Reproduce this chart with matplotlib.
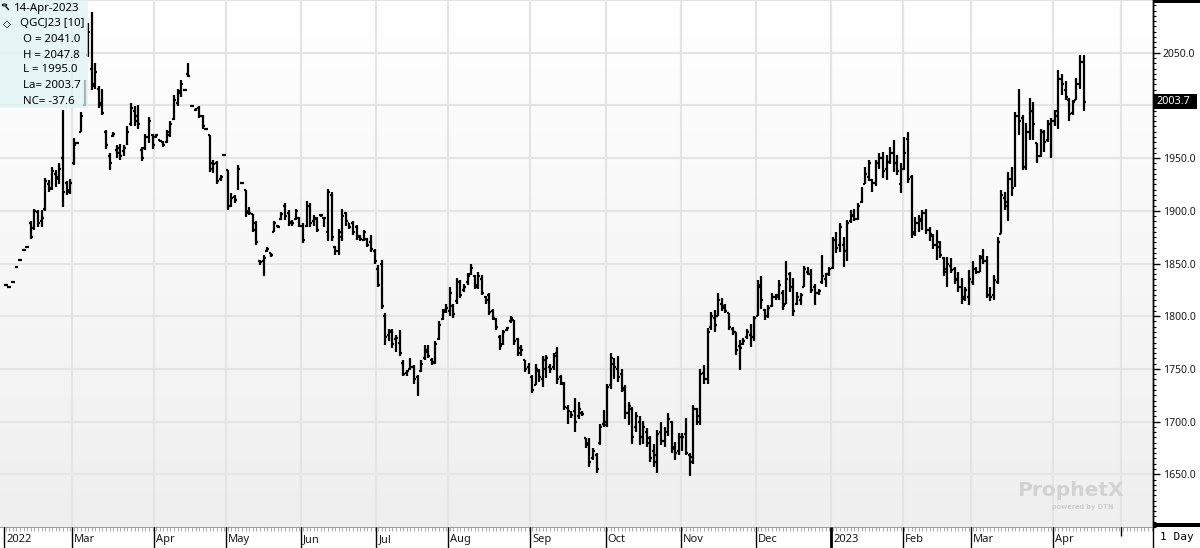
import matplotlib
matplotlib.use('Agg')
import matplotlib.pyplot as plt
from matplotlib.colors import LinearSegmentedColormap
from matplotlib.patches import Rectangle
from matplotlib.ticker import MultipleLocator, FormatStrFormatter
import numpy as np

# QGCJ23 daily bars, (open, high, low, close), one list per month
FEB22 = [(1830, 1830, 1830, 1830), (1828, 1828, 1828, 1828), (1832, 1832, 1832, 1832),
         (1847, 1847, 1847, 1847), (1853, 1853, 1853, 1853), (1863, 1863, 1863, 1863),
         (1866, 1866, 1866, 1866), (1888, 1890, 1873, 1875), (1884, 1902, 1882, 1900),
         (1899, 1901, 1885, 1888), (1890, 1901, 1885, 1893), (1902, 1931, 1900, 1928),
         (1925, 1929, 1918, 1921), (1922, 1942, 1920, 1938), (1935, 1939, 1923, 1930),
         (1932, 1945, 1925, 1940), (1950, 1996, 1904, 1918), (1926, 1928, 1915, 1918),
         (1920, 1930, 1916, 1926)]
MAR22 = [(1945, 1969, 1943, 1962), (1964, 1964, 1964, 1964), (1975, 1994, 1975, 1990),
         (2000, 2024, 1999, 2020), (2048, 2078, 2046, 2070), (2035, 2089, 2015, 2018),
         (2020, 2040, 2016, 2032), (2016, 2018, 1998, 2000), (2002, 2016, 1991, 1993),
         (1975, 1977, 1959, 1962), (1952, 1955, 1939, 1945), (1971, 1975, 1970, 1973),
         (1958, 1962, 1950, 1960), (1955, 1963, 1948, 1952), (1957, 1962, 1952, 1960),
         (1963, 1980, 1962, 1975), (1982, 2002, 1980, 1998), (1995, 1999, 1980, 1985),
         (1990, 2000, 1978, 1982), (1958, 1961, 1947, 1950), (1960, 1973, 1958, 1970),
         (1970, 1989, 1964, 1985), (1972, 1973, 1959, 1962)]
APR22 = [(1970, 1973, 1969, 1972), (1967, 1967, 1965, 1966), (1965, 1966, 1961, 1962),
         (1965, 1977, 1964, 1975), (1972, 1985, 1970, 1982), (1987, 2010, 1986, 2005),
         (2002, 2016, 1999, 2014), (2012, 2024, 2008, 2020), (2015, 2015, 2015, 2015),
         (2030, 2040, 2027, 2028), (1999, 1999, 1999, 1999), (1996, 1998, 1995, 1997),
         (1998, 1999, 1988, 1990), (1990, 1991, 1978, 1980), (1978, 1978, 1978, 1978),
         (1972, 1972, 1937, 1940), (1945, 1948, 1936, 1944), (1945, 1947, 1925, 1928),
         (1930, 1934, 1928, 1932), (1953, 1953, 1953, 1953)]
MAY22 = [(1939, 1939, 1901, 1905), (1905, 1917, 1904, 1912), (1913, 1915, 1907, 1910),
         (1922, 1943, 1920, 1940), (1926, 1926, 1926, 1926), (1920, 1920, 1894, 1898),
         (1900, 1904, 1896, 1898), (1897, 1897, 1880, 1882), (1888, 1890, 1868, 1870),
         (1852, 1853, 1849, 1851), (1852, 1858, 1838, 1855), (1862, 1866, 1861, 1864),
         (1860, 1860, 1856, 1858), (1880, 1890, 1880, 1888), (1886, 1887, 1884, 1885),
         (1892, 1899, 1891, 1897), (1905, 1907, 1891, 1895), (1898, 1901, 1886, 1888),
         (1889, 1891, 1886, 1888), (1892, 1902, 1891, 1900), (1893, 1894, 1885, 1886)]
JUN22 = [(1886, 1888, 1869, 1872), (1886, 1909, 1885, 1905), (1905, 1907, 1885, 1888),
         (1890, 1896, 1886, 1893), (1892, 1894, 1880, 1882), (1896, 1897, 1894, 1896),
         (1893, 1894, 1885, 1893), (1880, 1921, 1871, 1918), (1915, 1918, 1871, 1875),
         (1866, 1867, 1858, 1862), (1862, 1883, 1858, 1880), (1875, 1902, 1871, 1895),
         (1898, 1899, 1886, 1890), (1888, 1888, 1883, 1885), (1888, 1890, 1877, 1880),
         (1885, 1887, 1872, 1875), (1876, 1877, 1871, 1873), (1872, 1882, 1871, 1880),
         (1873, 1874, 1866, 1868), (1870, 1877, 1861, 1864), (1862, 1864, 1850, 1852)]
JUL22 = [(1845, 1849, 1828, 1830), (1850, 1853, 1807, 1810), (1800, 1803, 1773, 1780),
         (1782, 1788, 1776, 1785), (1786, 1788, 1770, 1774), (1778, 1782, 1766, 1779),
         (1775, 1787, 1762, 1765), (1756, 1758, 1743, 1745), (1746, 1749, 1743, 1748),
         (1750, 1760, 1749, 1752), (1752, 1754, 1736, 1740), (1742, 1744, 1724, 1742),
         (1748, 1758, 1747, 1755), (1760, 1773, 1758, 1768), (1766, 1773, 1760, 1762),
         (1758, 1760, 1754, 1757), (1756, 1776, 1755, 1774), (1778, 1795, 1777, 1792),
         (1797, 1807, 1796, 1804), (1806, 1812, 1803, 1808)]
AUG22 = [(1805, 1828, 1800, 1822), (1810, 1812, 1798, 1802), (1814, 1836, 1812, 1832),
         (1830, 1834, 1817, 1820), (1825, 1831, 1823, 1828), (1832, 1841, 1830, 1838),
         (1840, 1850, 1839, 1846), (1838, 1839, 1826, 1830), (1828, 1842, 1826, 1838),
         (1835, 1839, 1820, 1822), (1818, 1819, 1812, 1815), (1820, 1822, 1801, 1804),
         (1805, 1807, 1796, 1798), (1797, 1798, 1787, 1790), (1780, 1782, 1768, 1772),
         (1774, 1787, 1773, 1785), (1787, 1790, 1786, 1789), (1795, 1800, 1794, 1798),
         (1796, 1796, 1773, 1776), (1778, 1779, 1762, 1765), (1770, 1773, 1762, 1768),
         (1758, 1758, 1747, 1750), (1752, 1756, 1745, 1748)]
SEP22 = [(1742, 1744, 1727, 1730), (1735, 1755, 1735, 1750), (1748, 1750, 1738, 1742),
         (1740, 1762, 1733, 1758), (1750, 1763, 1741, 1760), (1752, 1755, 1746, 1750),
         (1752, 1765, 1749, 1762), (1765, 1771, 1736, 1740), (1742, 1744, 1735, 1737),
         (1736, 1738, 1711, 1714), (1713, 1716, 1698, 1710), (1708, 1710, 1703, 1706),
         (1710, 1722, 1690, 1700), (1705, 1719, 1702, 1712), (1708, 1710, 1705, 1707),
         (1684, 1684, 1675, 1678), (1680, 1684, 1657, 1662), (1665, 1675, 1664, 1672),
         (1668, 1670, 1651, 1655), (1680, 1698, 1678, 1695), (1698, 1711, 1695, 1700)]
OCT22 = [(1697, 1736, 1695, 1733), (1735, 1765, 1731, 1760), (1755, 1760, 1740, 1752),
         (1750, 1762, 1738, 1742), (1745, 1750, 1728, 1732), (1730, 1735, 1702, 1708),
         (1708, 1719, 1697, 1715), (1712, 1714, 1679, 1685), (1695, 1709, 1690, 1705),
         (1700, 1705, 1678, 1682), (1685, 1701, 1679, 1695), (1690, 1694, 1676, 1680),
         (1684, 1686, 1662, 1665), (1672, 1679, 1657, 1668), (1662, 1692, 1651, 1688),
         (1690, 1700, 1678, 1682), (1682, 1695, 1676, 1690), (1690, 1708, 1686, 1702),
         (1700, 1701, 1670, 1674), (1676, 1681, 1664, 1670), (1672, 1689, 1668, 1685)]
NOV22 = [(1675, 1689, 1672, 1685), (1688, 1703, 1668, 1670), (1668, 1670, 1648, 1666),
         (1662, 1716, 1660, 1712), (1712, 1713, 1697, 1700), (1705, 1750, 1697, 1745),
         (1746, 1754, 1736, 1740), (1740, 1789, 1736, 1785), (1790, 1804, 1787, 1800),
         (1798, 1806, 1785, 1792), (1800, 1822, 1800, 1815), (1812, 1817, 1805, 1808),
         (1810, 1812, 1803, 1805), (1803, 1803, 1787, 1790), (1788, 1790, 1782, 1785),
         (1785, 1785, 1763, 1768), (1772, 1777, 1749, 1770), (1774, 1779, 1773, 1776),
         (1780, 1788, 1778, 1785), (1782, 1793, 1771, 1775), (1780, 1800, 1776, 1798)]
DEC22 = [(1800, 1834, 1800, 1828), (1830, 1838, 1807, 1815), (1806, 1807, 1796, 1800),
         (1800, 1811, 1798, 1808), (1810, 1822, 1809, 1818), (1818, 1821, 1815, 1820),
         (1818, 1834, 1815, 1830), (1822, 1825, 1806, 1810), (1812, 1852, 1812, 1835),
         (1840, 1842, 1823, 1828), (1830, 1836, 1800, 1805), (1812, 1823, 1811, 1818),
         (1815, 1822, 1811, 1820), (1828, 1848, 1828, 1845), (1842, 1847, 1839, 1840),
         (1840, 1845, 1822, 1825), (1828, 1831, 1811, 1822), (1822, 1826, 1820, 1824),
         (1832, 1858, 1831, 1838), (1835, 1841, 1828, 1840), (1840, 1847, 1838, 1845)]
JAN23 = [(1846, 1875, 1845, 1872), (1872, 1880, 1860, 1865), (1868, 1888, 1861, 1885),
         (1868, 1875, 1847, 1862), (1862, 1891, 1852, 1888), (1890, 1901, 1888, 1895),
         (1896, 1902, 1890, 1892), (1892, 1907, 1891, 1905), (1908, 1923, 1907, 1920),
         (1925, 1942, 1925, 1935), (1932, 1948, 1928, 1945), (1929, 1930, 1918, 1926),
         (1926, 1948, 1924, 1945), (1945, 1955, 1940, 1950), (1950, 1956, 1931, 1938),
         (1940, 1953, 1929, 1946), (1946, 1961, 1944, 1955), (1955, 1967, 1937, 1945),
         (1945, 1953, 1934, 1938), (1925, 1945, 1917, 1940)]
FEB23 = [(1940, 1970, 1939, 1955), (1968, 1975, 1926, 1930), (1932, 1934, 1874, 1878),
         (1880, 1894, 1876, 1888), (1888, 1896, 1880, 1892), (1890, 1901, 1882, 1898),
         (1898, 1902, 1878, 1882), (1882, 1885, 1871, 1878), (1876, 1878, 1864, 1868),
         (1868, 1882, 1853, 1870), (1866, 1871, 1855, 1858), (1855, 1856, 1838, 1842),
         (1845, 1856, 1828, 1850), (1848, 1855, 1841, 1844), (1845, 1847, 1831, 1835),
         (1834, 1842, 1823, 1828), (1828, 1836, 1812, 1816), (1818, 1828, 1814, 1825),
         (1818, 1844, 1811, 1835)]
MAR23 = [(1832, 1852, 1830, 1845), (1845, 1847, 1840, 1842), (1842, 1858, 1842, 1855),
         (1856, 1864, 1850, 1852), (1852, 1857, 1817, 1820), (1820, 1828, 1814, 1818),
         (1820, 1839, 1815, 1834), (1832, 1875, 1831, 1870), (1878, 1920, 1878, 1915),
         (1912, 1918, 1901, 1908), (1905, 1937, 1890, 1930), (1930, 1942, 1914, 1922),
         (1925, 1994, 1923, 1990), (1990, 2016, 1972, 1985), (1988, 1991, 1939, 1942),
         (1942, 1983, 1939, 1975), (1975, 2007, 1967, 1995), (1995, 2003, 1967, 1982),
         (1964, 1964, 1945, 1952), (1952, 1978, 1951, 1975), (1975, 1977, 1956, 1965),
         (1967, 1986, 1965, 1982), (1982, 1988, 1950, 1985)]
APR23 = [(1985, 1996, 1980, 1990), (1995, 2034, 1978, 2025), (2025, 2030, 2010, 2020),
         (2015, 2023, 2005, 2008), (2005, 2007, 1985, 1992), (1993, 2005, 1991, 2003),
         (2005, 2026, 2005, 2020), (2020, 2048, 2016, 2041.3), (2041.0, 2047.8, 1995.0, 2003.7)]

MONTH_LABELS = ['2022', 'Mar', 'Apr', 'May', 'Jun', 'Jul', 'Aug', 'Sep', 'Oct',
                'Nov', 'Dec', '2023', 'Feb', 'Mar', 'Apr']
MONTH_BARS = [FEB22, MAR22, APR22, MAY22, JUN22, JUL22, AUG22, SEP22, OCT22,
              NOV22, DEC22, JAN23, FEB23, MAR23, APR23]
APR23_SESSIONS = 19          # full April session count (next month line)
PRICE_TICKS = [1650, 1700, 1750, 1800, 1850, 1900, 1950, 2000, 2050]
SYMBOL = 'QGCJ23 [10]'
LAST_DATE = '14-Apr-2023'

FONT = 'Noto Sans'
W, H = 1200, 548
PLOT_R, PLOT_B = 1153, 527   # pixel edges of the price pane
GRID = '#e4e4e4'

bars = np.array([b for m in MONTH_BARS for b in m], dtype=float)
o, hi, lo, c = bars.T
x = np.arange(len(bars))
starts = np.cumsum([0] + [len(m) for m in MONTH_BARS])[:-1]
bounds = starts - 0.5
next_bound = starts[-1] + APR23_SESSIONS - 0.5

x0, x1 = -1.6, 320.4
y0, y1 = 1600, 2100

fig = plt.figure(figsize=(W / 100, H / 100), dpi=100)
fig.patch.set_facecolor('white')
ax = fig.add_axes([0, (H - PLOT_B) / H, PLOT_R / W, PLOT_B / H])
axb = fig.add_axes([0, 0, PLOT_R / W, (H - PLOT_B) / H])

# soft vertical gradient behind the price pane
cmap = LinearSegmentedColormap.from_list('bg', ['#ffffff', '#efefef'])
ax.imshow(np.linspace(0, 1, 256).reshape(-1, 1), cmap=cmap, aspect='auto',
          extent=[x0, x1, y0, y1], zorder=0, interpolation='bilinear')

for p in range(1650, 2101, 50):
    ax.axhline(p, color=GRID, lw=1.5, zorder=1)
for b in list(bounds[1:]) + [next_bound]:
    ax.axvline(b, color=GRID, lw=1.5, zorder=1)

# OHLC bars
tick = 0.55
ax.vlines(x, lo, hi, color='black', lw=1.6, zorder=3)
ax.hlines(o, x - tick, x, color='black', lw=1.6, zorder=3)
ax.hlines(c, x, x + tick, color='black', lw=1.6, zorder=3)

ax.set_xlim(x0, x1)
ax.set_ylim(y0, y1)
ax.set_xticks([])
ax.yaxis.tick_right()
ax.set_yticks(PRICE_TICKS)
ax.yaxis.set_major_formatter(FormatStrFormatter('%.1f'))
ax.yaxis.set_minor_locator(MultipleLocator(5))
ax.tick_params(axis='y', which='major', direction='out', length=5, width=1,
               color='black', pad=2, labelsize=7.5, labelcolor='#1a1a1a')
ax.tick_params(axis='y', which='minor', direction='out', length=2, width=0.8, color='black')
for lab in ax.get_yticklabels():
    lab.set_family(FONT)
for s in ['top', 'left', 'bottom']:
    ax.spines[s].set_visible(False)
ax.spines['right'].set_color('black')
ax.spines['right'].set_linewidth(1)


def ftext(px, py, s, **kw):
    return fig.text(px / W, 1 - py / H, s, **kw)


# last price flag, drawn over the right axis labels
py_last = (y1 - c[-1]) / (y1 - y0) * PLOT_B
fig.add_artist(Rectangle((PLOT_R / W, 1 - (py_last + 7.5) / H), 44 / W, 15 / H,
                         transform=fig.transFigure, fc='black', ec='none', zorder=5))
ftext(1156, py_last, f'{c[-1]:.1f}', fontsize=7.8, family=FONT, va='center',
      color='white', zorder=6)

# data window box in the top-left corner
ax.add_patch(Rectangle((0, 1 - 108 / PLOT_B), 88 / PLOT_R, 108 / PLOT_B,
                       transform=ax.transAxes, fc='#dff4f4', ec='none',
                       alpha=0.75, zorder=6))

box_kw = dict(fontsize=8.2, family=FONT, va='center', color='black', zorder=7)
ftext(14, 8, LAST_DATE, **box_kw)
ftext(3, 24, '\u25c7', fontsize=7.5, family='DejaVu Sans', va='center', color='black', zorder=7)
ftext(20, 24, SYMBOL, **box_kw)
ftext(23, 39, f'O = {o[-1]:.1f}', **box_kw)
ftext(23, 55, f'H = {hi[-1]:.1f}', **box_kw)
ftext(23, 70, f'L = {lo[-1]:.1f}', **box_kw)
ftext(23, 86, f'La= {c[-1]:.1f}', **box_kw)
ftext(23, 101, f'NC= {c[-1] - c[-2]:.1f}', **box_kw)
# little magnifier glyph
fig.add_artist(plt.Circle((4.5 / W, 1 - 5 / H), 2.2 / W, transform=fig.transFigure,
                          fill=False, ec='black', lw=0.8))
fig.add_artist(plt.Line2D([6.2 / W, 8.5 / W], [1 - 7 / H, 1 - 9.5 / H],
                          transform=fig.transFigure, color='black', lw=1))

# watermark
ftext(1017, 491, 'ProphetX', fontsize=14.5, weight='bold', family='DejaVu Sans',
      color='#d2d2d2', va='center')
ftext(1052, 507, 'powered by DTN', fontsize=4.8, weight='bold', family='DejaVu Sans',
      color='#cfcfcf', va='center')

# date strip
axb.set_xlim(x0, x1)
axb.set_ylim(0, 1)
axb.axis('off')
axb.axhline(1, color='#8a8a8a', lw=1.2)
axb.vlines(np.arange(0, int(x1) + 1), 0.82, 1, color='#9a9a9a', lw=0.6)
for b, lab in zip(bounds, MONTH_LABELS):
    lw = 2 if lab.isdigit() and lab != '2022' else 1
    axb.vlines(b, 0, 1, color='black', lw=lw)
    axb.text(b + 0.6, 0.4, lab, ha='left', va='center', fontsize=8, family=FONT,
             color='#1a1a1a')
axb.vlines(next_bound, 0.55, 1, color='black', lw=1)

# right-hand panel trim
fig.add_artist(Rectangle((PLOT_R / W, 1 - 3 / H), (W - PLOT_R) / W, 3 / H,
                         transform=fig.transFigure, fc='black', ec='none'))
fig.add_artist(Rectangle((PLOT_R / W, (H - PLOT_B) / H), (W - PLOT_R) / W, 4 / H,
                         transform=fig.transFigure, fc='black', ec='none'))
fig.add_artist(plt.Line2D([PLOT_R / W + 0.0004] * 2, [0, 1], transform=fig.transFigure,
                          color='black', lw=1))
ftext(1160, 537, '1 Day', fontsize=8, family='DejaVu Sans Mono', va='center', color='black')

fig.savefig('out.png', dpi=100, facecolor='white')
